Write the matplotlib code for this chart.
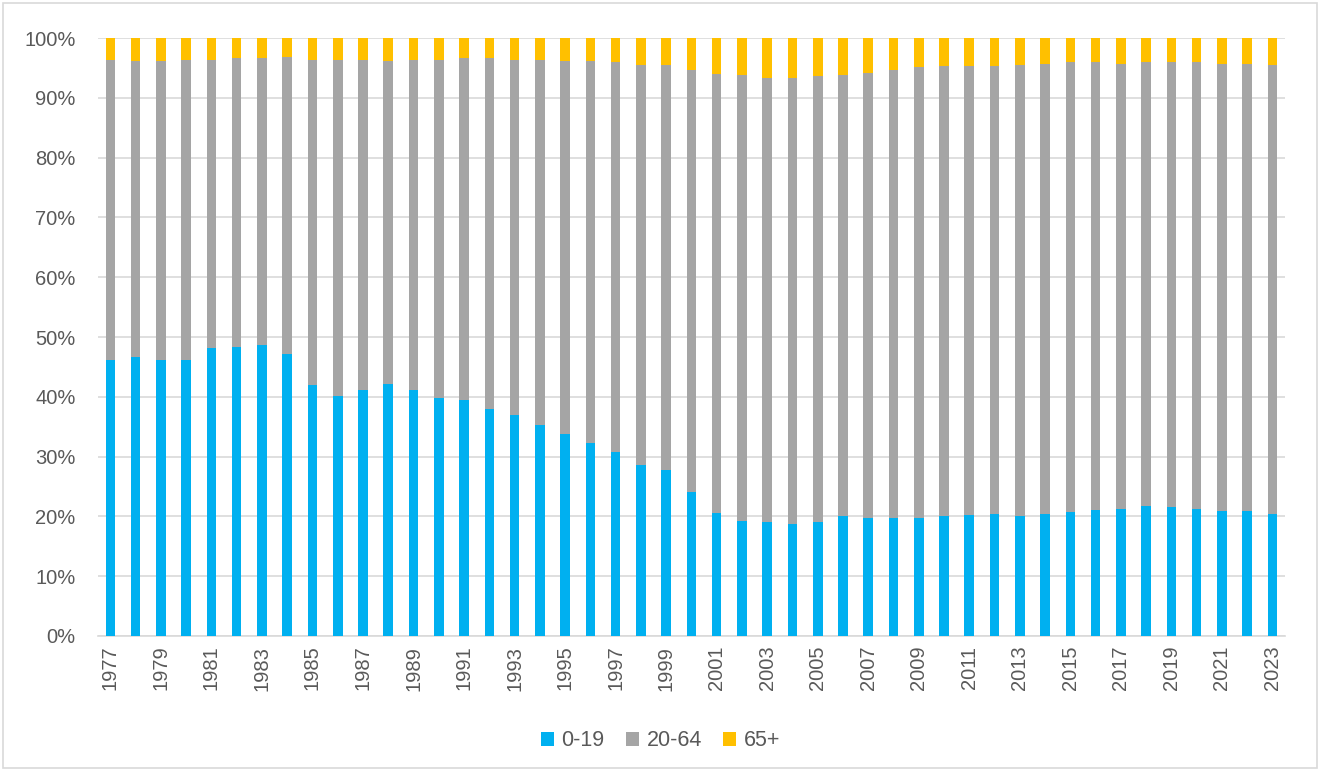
import matplotlib
matplotlib.use("Agg")
import matplotlib.pyplot as plt
from matplotlib.patches import Rectangle
from matplotlib.ticker import PercentFormatter

years = list(range(1977, 2024))
age_0_19 = [46.1, 46.6, 46.1, 46.1, 48.1, 48.4, 48.6, 47.2, 42.0, 40.1,
            41.1, 42.2, 41.1, 39.8, 39.4, 38.0, 36.9, 35.3, 33.8, 32.2,
            30.7, 28.6, 27.8, 24.0, 20.5, 19.3, 19.0, 18.8, 19.1, 20.0,
            19.7, 19.7, 19.7, 20.0, 20.2, 20.4, 20.0, 20.4, 20.7, 21.1,
            21.3, 21.7, 21.6, 21.3, 20.9, 20.9, 20.4]
cum_0_64 = [96.4, 96.1, 96.1, 96.4, 96.4, 96.6, 96.6, 96.8, 96.4, 96.4,
            96.4, 96.1, 96.4, 96.4, 96.6, 96.6, 96.4, 96.4, 96.1, 96.1,
            96.0, 95.5, 95.5, 94.6, 94.0, 93.8, 93.3, 93.3, 93.6, 93.8,
            94.2, 94.6, 95.1, 95.3, 95.3, 95.3, 95.5, 95.7, 96.0, 96.0,
            95.7, 96.0, 96.0, 96.0, 95.7, 95.7, 95.5]
age_20_64 = [c - a for c, a in zip(cum_0_64, age_0_19)]
age_65 = [100 - c for c in cum_0_64]

series_names = ["0-19", "20-64", "65+"]
colors = ["#00B0F0", "#A5A5A5", "#FFC000"]

plt.rcParams['font.family'] = ['Liberation Sans', 'DejaVu Sans']

fig = plt.figure(figsize=(13.21, 7.71), dpi=100)
ax = fig.add_axes([0.074, 0.1751, 0.8988, 0.7756])

x = list(range(len(years)))
w = 0.38
ax.bar(x, age_0_19, width=w, color=colors[0], label=series_names[0], zorder=3)
ax.bar(x, age_20_64, width=w, bottom=age_0_19, color=colors[1], label=series_names[1], zorder=3)
ax.bar(x, age_65, width=w, bottom=cum_0_64, color=colors[2], label=series_names[2], zorder=3)

ax.set_xlim(-0.5, len(years) - 0.5)
ax.set_ylim(0, 100)
ax.set_yticks(range(0, 101, 10))
ax.yaxis.set_major_formatter(PercentFormatter(decimals=0))
ax.set_xticks(x[::2])
ax.set_xticklabels([str(y) for y in years[::2]], rotation=90)
ax.grid(axis='y', color='#D9D9D9', linewidth=1.2, zorder=0)
ax.set_axisbelow(True)
for s in ['top', 'right', 'left']:
    ax.spines[s].set_visible(False)
ax.spines['bottom'].set_color('#D9D9D9')
ax.spines['bottom'].set_linewidth(1.2)
ax.tick_params(axis='both', length=0, colors='#595959', labelsize=14.5)
ax.tick_params(axis='y', pad=16)
ax.tick_params(axis='x', pad=7)

leg = fig.legend(loc='center', bbox_to_anchor=(0.5, 0.039), ncol=3, frameon=False,
                 fontsize=15.5, handlelength=0.6, handleheight=0.6,
                 handletextpad=0.35, columnspacing=1.0)
for t in leg.get_texts():
    t.set_color('#595959')

fig.patches.append(Rectangle((0.002, 0.004), 0.995, 0.992, transform=fig.transFigure,
                             fill=False, edgecolor='#D9D9D9', linewidth=1.2))

fig.savefig("out.png", dpi=100)
